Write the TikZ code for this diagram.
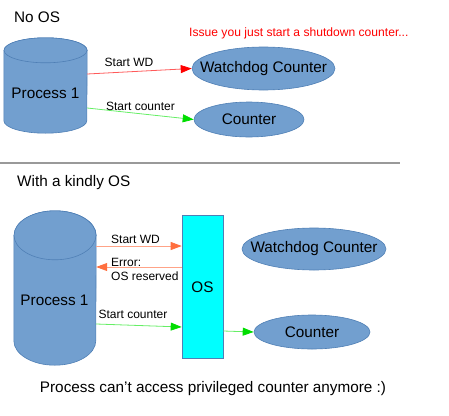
\documentclass[tikz,border=0pt]{standalone}
\usepackage{fontspec}
\setmainfont{Liberation Sans}
\usetikzlibrary{shapes.geometric,arrows.meta}
\definecolor{cylblue}{HTML}{729FCF}
\definecolor{cylline}{HTML}{4F7FB5}
\definecolor{oscyan}{HTML}{00FFFF}
\definecolor{redline}{HTML}{FF5A5A}
\definecolor{redhead}{HTML}{FF0000}
\definecolor{greenline}{HTML}{66EE66}
\definecolor{greenhead}{HTML}{00DD00}
\definecolor{salmonline}{HTML}{FFA387}
\definecolor{salmonhead}{HTML}{FF6F3F}
\begin{document}
\begin{tikzpicture}[x=1pt,y=-1pt,
  big/.style={font=\fontsize{15.3}{18}\selectfont, inner sep=0pt},
  small/.style={font=\fontsize{12}{14}\selectfont, inner sep=0pt},
  ell/.style={ellipse, fill=cylblue, draw=cylline, line width=0.6pt, inner sep=0pt},
  body/.style={draw=none, inner sep=0pt},
  cyl/.style={fill=cylblue, draw=cylline, line width=0.6pt},
  redarr/.style={draw=redline, line width=0.8pt, -{Triangle[length=11pt,width=8pt,color=redhead]}},
  greenarr/.style={draw=greenline, line width=0.8pt, -{Triangle[length=11pt,width=8pt,color=greenhead]}},
  salarr/.style={draw=salmonline, line width=0.8pt, -{Triangle[length=11pt,width=8pt,color=salmonhead]}}
]
\useasboundingbox (0,0) rectangle (449,415);

% ---------- No OS ----------
\node[big, anchor=west] (noos) at (14,17) {No OS};
\node[font=\fontsize{12.1}{14}\selectfont, inner sep=0pt, anchor=west, text=redhead] (issue) at (189,33) {Issue you just start a shutdown counter...};

% cylinder 1
\node[body, minimum width=83pt, minimum height=70pt] (p1) at (45.5,85.5) {};
\path[cyl] (p1.north west) -- (p1.south west) arc (180:360:41.5pt and 12.5pt) -- (p1.north east) arc (0:180:41.5pt and 12.5pt) -- cycle;
\draw[cyl] (p1.north) ellipse (41.5pt and 12.5pt);
\node[big] (p1t) at (45.5,93) {Process 1};

\node[ell, minimum width=143pt, minimum height=43pt] (wd1) at (263.5,68.5) {};
\node[big] (wd1t) at (wd1) {Watchdog Counter};
\node[ell, minimum width=110pt, minimum height=35pt] (c1) at (249,119.5) {};
\node[big] (c1t) at (c1) {Counter};

\draw[redarr] ([yshift=11.5pt]p1.east) -- (wd1.west) node[small, pos=0.4, above=5pt] {Start WD};
\draw[greenarr] ([yshift=-22.5pt]p1.east) -- (c1.west) node[small, pos=0.5, above=3pt] {Start counter};

% separator
\coordinate (sepa) at (0,163);
\coordinate (sepb) at (400,163);
\draw[color=black!40, line width=1.3pt] (sepa) -- (sepb);

% ---------- With a kindly OS ----------
\node[big, anchor=west] (kind) at (17,183) {With a kindly OS};

% cylinder 2
\node[body, minimum width=82pt, minimum height=105pt] (p2) at (55,288) {};
\path[cyl] (p2.north west) -- (p2.south west) arc (180:360:41pt and 24.5pt) -- (p2.north east) arc (0:180:41pt and 24.5pt) -- cycle;
\draw[cyl] (p2.north) ellipse (41pt and 24.5pt);
\node[big] (p2t) at (54.5,300) {Process 1};

\node[draw=cylline, fill=oscyan, line width=0.6pt, minimum width=41pt, minimum height=143pt, inner sep=0pt] (os) at (202.5,286.5) {};
\node[big] (ost) at (202.5,287) {OS};

\node[ell, minimum width=144pt, minimum height=42pt] (wd2) at (314,249) {};
\node[big] (wd2t) at (wd2) {Watchdog Counter};
\node[ell, minimum width=116pt, minimum height=34pt] (c2) at (312,332) {};
\node[big] (c2t) at (c2) {Counter};

\draw[salarr] ([yshift=42pt]p2.east) -- ([yshift=40.5pt]os.west) node[small, pos=0.46, above=2pt] {Start WD};
\draw[salarr] ([yshift=19.5pt]os.west) -- ([yshift=21pt]p2.east);
\node[small, anchor=west, align=left] (err) at (111,269) {Error:\\OS reserved};
\draw[greenarr] ([yshift=-36pt]p2.east) -- ([yshift=-40.5pt]os.west) node[small, pos=0.43, above=6pt] {Start counter};
\draw[greenarr] ([yshift=-44.5pt]os.east) -- (c2.west);

\node[big] (foot) at (213,389) {Process can{\char"0027}t access privileged counter anymore :)};
\end{tikzpicture}
\end{document}
